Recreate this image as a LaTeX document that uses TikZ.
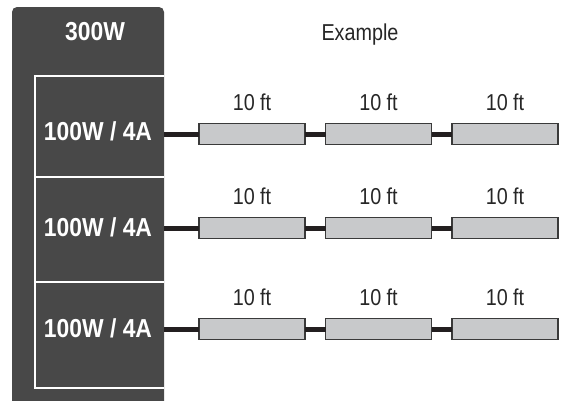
\documentclass[tikz,border=0pt]{standalone}
\usepackage{fontspec}
\setmainfont{Liberation Sans}
\newfontfamily\regnarrow[FakeStretch=0.86]{Liberation Sans}
\newfontfamily\boldnarrow[FakeStretch=0.88]{Liberation Sans}
\definecolor{panel}{HTML}{484848}
\definecolor{cable}{HTML}{231F20}
\definecolor{segfill}{HTML}{C8C9CB}
\definecolor{segline}{HTML}{3A3A3A}
\begin{document}
\begin{tikzpicture}[x=1pt,y=-1pt,
  seg/.style={draw=segline,line width=1.2pt,fill=segfill,minimum width=106pt,minimum height=21pt,inner sep=0pt,outer sep=0pt},
  cab/.style={draw=cable,line width=5pt},
  lbl/.style={font=\regnarrow\fontsize{23}{25}\selectfont,text=black!85,inner sep=0pt},
  wlbl/.style={font=\boldnarrow\fontsize{26}{28}\selectfont\bfseries,text=white,inner sep=0pt},
  sep/.style={draw=white,line width=2pt}]
\useasboundingbox (0,0) rectangle (562,400);
% panel
\fill[panel] (12,402) [rounded corners=5pt] -- (12,7) -- (164,7) [sharp corners] -- (164,402) -- cycle;
\draw[sep] (164,76) -- (35,76) -- (35,388) -- (164,388);
\draw[sep] (35,177) -- (164,177);
\draw[sep] (35,282) -- (164,282);
\node[wlbl] (top) at (95,32) {300W};
\node[lbl] (ex) at (360,35) {Example};
\foreach \r/\cy/\ty in {1/134/131,2/228/227,3/329/328}{
  \node[wlbl] (out\r) at (98,\ty) {100W / 4A};
  \coordinate (p\r) at (164,\cy);
  \node[seg] (s\r1) at (252,\cy) {};
  \node[seg] (s\r2) at (378.5,\cy) {};
  \node[seg] (s\r3) at (505,\cy) {};
  \node[lbl] (l\r1) at (252,\cy-31.5) {10 ft};
  \node[lbl] (l\r2) at (378.5,\cy-31.5) {10 ft};
  \node[lbl] (l\r3) at (505,\cy-31.5) {10 ft};
}
\foreach \r in {1,2,3}{
  \draw[cab] (p\r) -- (s\r1.west);
  \draw[cab] (s\r1.east) -- (s\r2.west);
  \draw[cab] (s\r2.east) -- (s\r3.west);
}
\end{tikzpicture}
\end{document}
